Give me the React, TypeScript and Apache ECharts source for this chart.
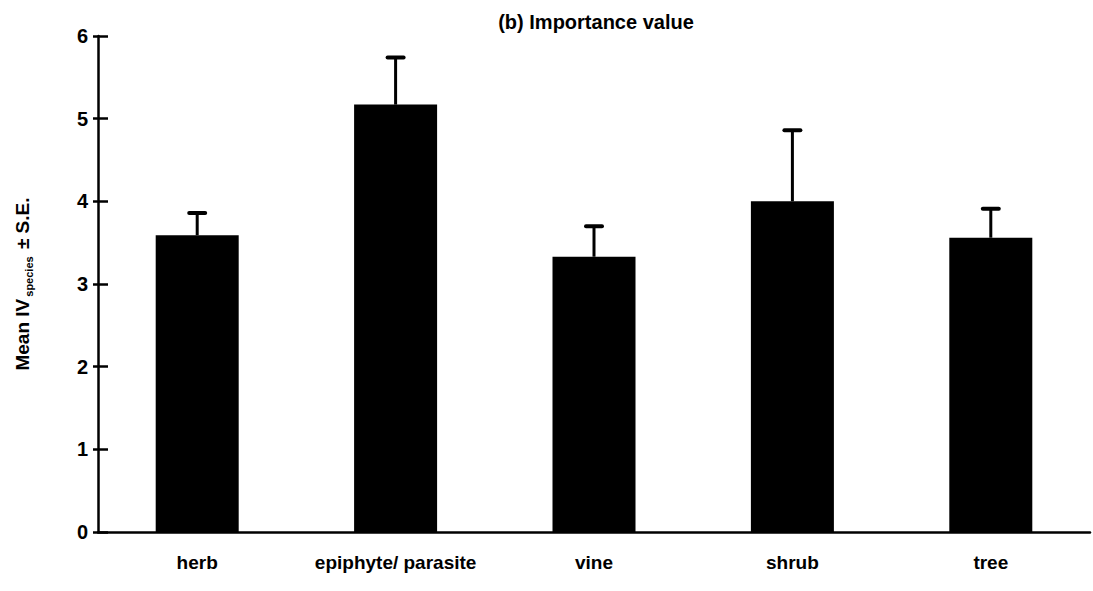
import React, { useEffect, useRef } from "react";
import * as echarts from "echarts";

// Growth-form categories and their mean importance values with standard errors
const categories = ["herb", "epiphyte/ parasite", "vine", "shrub", "tree"];
const meanIV = [3.59, 5.17, 3.33, 4.0, 3.56];
const stdErr = [0.27, 0.57, 0.37, 0.86, 0.35];
const yTicks = { min: 0, max: 6, interval: 1 };

const FONT = "'Liberation Sans', Arial, Helvetica, sans-serif";

export default function App() {
  const ref = useRef<HTMLDivElement>(null);

  useEffect(() => {
    if (!ref.current) return;
    const chart = echarts.init(ref.current, undefined, { renderer: "svg" });

    const errData = categories.map((_, i) => [i, meanIV[i], stdErr[i]]);

    chart.setOption({
      animation: false,
      backgroundColor: "#ffffff",
      title: {
        text: "(b) Importance value",
        left: 591,
        top: 7,
        textAlign: "center",
        textStyle: { fontFamily: FONT, fontSize: 20, fontWeight: "bold", color: "#000" },
      },
      grid: { left: 98, right: 3, top: 36, bottom: 59, containLabel: false },
      xAxis: {
        type: "category",
        data: categories,
        axisLine: { show: true, lineStyle: { color: "#000", width: 2.5 } },
        axisTick: { show: false },
        axisLabel: {
          interval: 0,
          margin: 21,
          color: "#000",
          fontFamily: FONT,
          fontSize: 19,
          fontWeight: "bold",
        },
        splitLine: { show: false },
      },
      yAxis: [
        {
          type: "value",
          position: "left",
          min: yTicks.min,
          max: yTicks.max,
          interval: yTicks.interval,
          axisLine: { show: true, lineStyle: { color: "#000", width: 2.5 } },
          axisTick: { show: true, inside: false, length: 5, lineStyle: { color: "#000", width: 2.5 } },
          axisLabel: {
            margin: 10,
            color: "#000",
            fontFamily: FONT,
            fontSize: 20,
            fontWeight: "bold",
          },
          splitLine: { show: false },
        },
        {
          // inner half of the crossing tick marks
          type: "value",
          position: "left",
          min: yTicks.min,
          max: yTicks.max,
          interval: yTicks.interval,
          axisLine: { show: false },
          axisTick: { show: true, inside: true, length: 10, lineStyle: { color: "#000", width: 2.5 } },
          axisLabel: { show: false },
          splitLine: { show: false },
        },
      ],
      graphic: [
        {
          type: "text",
          x: 22,
          y: 284,
          rotation: Math.PI / 2,
          style: {
            text: "{m|Mean IV}{s|species}{m| ± S.E.}",
            align: "center",
            verticalAlign: "middle",
            fill: "#000",
            rich: {
              m: { fontFamily: FONT, fontSize: 19, fontWeight: "bold", fill: "#000", lineHeight: 24 },
              s: {
                fontFamily: FONT,
                fontSize: 11,
                fontWeight: "bold",
                fill: "#000",
                lineHeight: 13,
                verticalAlign: "bottom",
                padding: [9, 2, 0, 2],
              },
            },
          },
        },
      ],
      series: [
        {
          type: "bar",
          data: meanIV,
          barWidth: 83,
          itemStyle: { color: "#000" },
          yAxisIndex: 0,
        },
        {
          type: "custom",
          yAxisIndex: 0,
          data: errData,
          encode: { x: 0, y: 1 },
          z: 3,
          renderItem: (_params: any, api: any) => {
            const idx = api.value(0);
            const m = api.value(1);
            const s = api.value(2);
            const base = api.coord([idx, m]);
            const top = api.coord([idx, m + s]);
            return {
              type: "group",
              children: [
                {
                  type: "line",
                  shape: { x1: base[0], y1: base[1], x2: top[0], y2: top[1] },
                  style: { stroke: "#000", lineWidth: 3 },
                },
                {
                  type: "line",
                  shape: { x1: top[0] - 8, y1: top[1], x2: top[0] + 8, y2: top[1] },
                  style: { stroke: "#000", lineWidth: 4, lineCap: "round" },
                },
              ],
            };
          },
        },
      ],
    });

    return () => chart.dispose();
  }, []);

  return (
    <div
      ref={ref}
      style={{ position: "fixed", left: 0, top: 0, width: 1093, height: 591, background: "#fff" }}
    />
  );
}
